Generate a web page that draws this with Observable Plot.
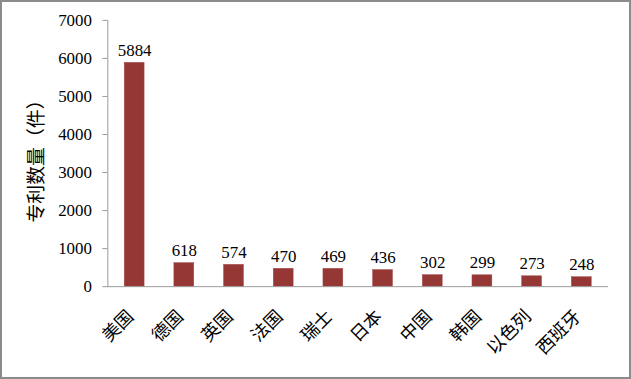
<!DOCTYPE html>
<html>
<head>
<meta charset="utf-8">
<script src="https://cdn.jsdelivr.net/npm/d3@7"></script>
<script src="https://cdn.jsdelivr.net/npm/@observablehq/plot@0.6"></script>
<style>
  html, body { margin: 0; padding: 0; background: #fff; }
  #wrap { position: relative; width: 631px; height: 379px; box-sizing: border-box; border: 2px solid #8c8c8c; overflow: hidden; }
  #wrap svg { position: absolute; left: -2px; top: -2px; }
</style>
</head>
<body>
<div id="wrap"></div>
<script>
const countries = ["美国", "德国", "英国", "法国", "瑞士", "日本", "中国", "韩国", "以色列", "西班牙"];
const patents = [5884, 618, 574, 470, 469, 436, 302, 299, 273, 248];
const yTicks = [0, 1000, 2000, 3000, 4000, 5000, 6000, 7000];
const yLabel = "专利数量（件）";

const data = countries.map((c, i) => ({country: c, value: patents[i]}));
const serif = "Liberation Serif, Times New Roman, serif";
const cjk = "Noto Sans CJK SC, sans-serif";

const chart = Plot.plot({
  width: 631,
  height: 379,
  marginLeft: 108,
  marginRight: 19,
  marginTop: 20,
  marginBottom: 91,
  style: "background: transparent; overflow: visible;",
  x: {domain: countries, paddingInner: 0.6, paddingOuter: 0.3, align: 0.5, label: null},
  y: {domain: [0, 7000], label: null},
  marks: [
    Plot.barY(data, {x: "country", y: "value", fill: "#953735", stroke: "#a44a48", strokeWidth: 0.5}),
    Plot.frame({anchor: "left", stroke: "#9a9a9a"}),
    Plot.ruleY([0], {stroke: "#9a9a9a"}),
    Plot.axisY({ticks: yTicks, tickFormat: "d", tickSize: 5, tickPadding: 11, stroke: "#9a9a9a", fill: "#000", label: null, fontFamily: serif, fontSize: 17}),
    Plot.axisX({tickSize: 0, tickRotate: -45, tickPadding: 27, dx: -4, fill: "#000", label: null, fontFamily: cjk, fontSize: 18}),
    Plot.text(data, {x: "country", y: "value", text: d => String(d.value), lineAnchor: "bottom", dy: -7, fill: "#000", fontFamily: serif, fontSize: 17}),
    Plot.text([yLabel], {frameAnchor: "left", textAnchor: "middle", dx: -71, dy: 3, rotate: -90, fill: "#000", text: d => d, fontFamily: cjk, fontSize: 19})
  ]
});
document.getElementById("wrap").appendChild(chart);
</script>
</body>
</html>
